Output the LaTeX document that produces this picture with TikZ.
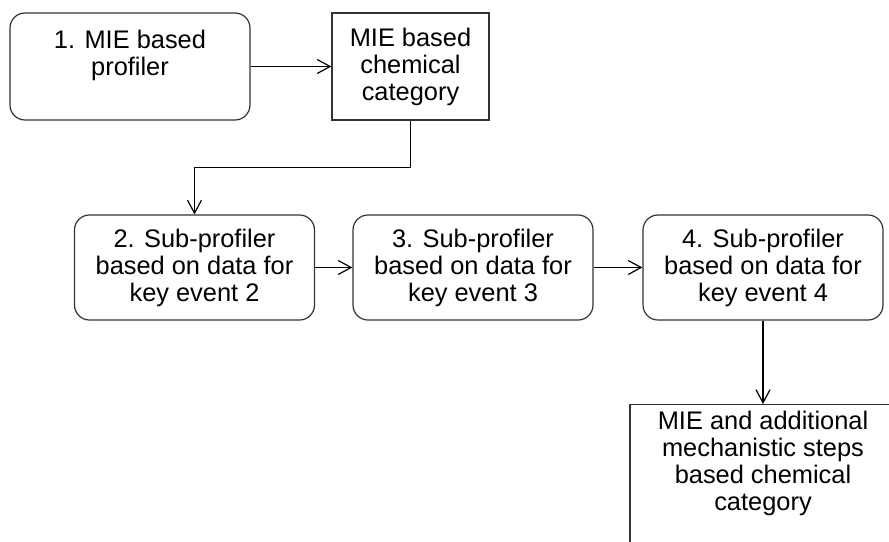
\documentclass[tikz,border=0pt]{standalone}
\usepackage{fontspec}
\setmainfont{Liberation Sans}
\usetikzlibrary{arrows.meta}

\begin{document}
\begin{tikzpicture}[->,>={Straight Barb[length=6.5pt,width=7pt]},x=0.5pt,y=-0.5pt,
                    line width=0.6pt,font=\fontsize{12.7}{13.5}\selectfont]
  \tikzstyle{every node}=[draw=black!80,align=center]
  \tikzstyle{prof}=[rounded corners=7.5pt,minimum width=120pt,minimum height=52.5pt]
  \tikzstyle{cat}=[minimum height=53.5pt]
  \useasboundingbox (0,0) rectangle (889,541);
  \clip (0,0) rectangle (889,541);

  \node[prof,minimum height=53.5pt](p1) at (130,66.5) {1. MIE based\\ profiler\\ \mbox{}};
  \node[cat,minimum width=78.5pt]     (c1) at (410.5,66.5) {MIE based\\ chemical\\ category};
  \node[prof](p2) at (194.5,267.5) {2. Sub-profiler\\ based on data for\\ key event 2};
  \node[prof](p3) at (473,267.5)   {3. Sub-profiler\\ based on data for\\ key event 3};
  \node[prof](p4) at (763,267.5)   {4. Sub-profiler\\ based on data for\\ key event 4};
  \node[minimum width=133pt,anchor=north](c2) at (763,404)
       {MIE and additional\\ mechanistic steps\\ based chemical\\ category\\ \mbox{}\\ \mbox{}};

  \path (p1) edge (c1)
        (p2) edge (p3)
        (p3) edge (p4)
        (p4) edge (c2);
  \draw (c1.south) -- ++(0,47) -| (p2.north);

\end{tikzpicture}
\end{document}
